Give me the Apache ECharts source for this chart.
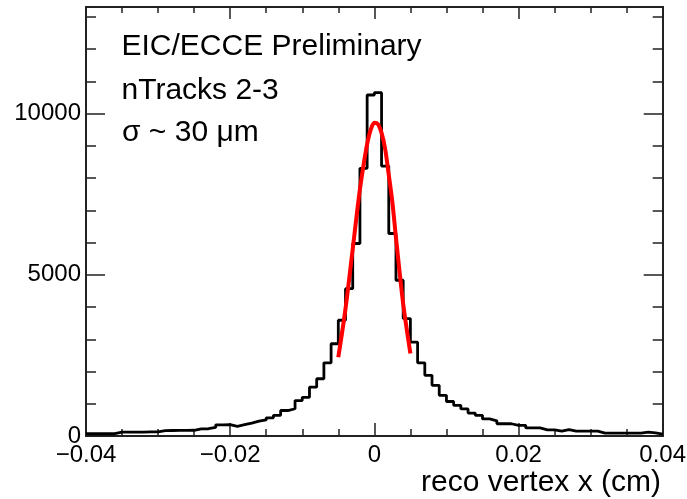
<!DOCTYPE html>
<html>
<head>
<meta charset="utf-8">
<script src="https://cdn.jsdelivr.net/npm/echarts@6/dist/echarts.min.js"></script>
<style>
  html, body { margin: 0; padding: 0; background: #fff; }
  #chart { width: 687px; height: 499px; }
</style>
</head>
<body>
<div id="chart"></div>
<script>
// Histogram of reconstructed vertex x: 80 bins of 0.001 cm from -0.04 to 0.04
const binStart = -0.04;
const binWidth = 0.001;
const counts = [
  70, 70, 70, 70, 118, 120, 122, 120, 125, 128,
  168, 170, 172, 175, 178, 220, 225, 270, 345, 350,
  300, 350, 400, 460, 500, 565, 640, 790, 845, 1100,
  1200, 1515, 1775, 2270, 2860, 3590, 4570, 5970, 8300, 10575,
  10646, 8370, 6280, 4830, 3640, 2910, 2270, 1880, 1570, 1260,
  1070, 950, 840, 710, 640, 530, 470, 380, 380, 330,
  330, 250, 250, 190, 190, 150, 200, 150, 150, 150,
  150, 90, 90, 90, 90, 90, 90, 120, 100, 60
];

// Gaussian fit over the core, |x| < 0.005 cm
const fitX = [-0.005, -0.004, -0.003, -0.0025, -0.002, -0.0015, -0.001, -0.0005, 0,
              0.0005, 0.001, 0.0015, 0.002, 0.0025, 0.003, 0.004, 0.005];
const fitY = [2440, 3950, 5800, 6750, 7650, 8400, 9050, 9500, 9710,
              9670, 9400, 8900, 8100, 7250, 6150, 4100, 2560];

// Axis ranges and tick steps
const xRange = [-0.04, 0.04];
const xMajorStep = 0.02;
const yRange = [0, 13300];
const yMajorStep = 5000;
const yMinorStep = 1000;

// Text annotations
const infoLines = ['EIC/ECCE Preliminary', 'nTracks 2-3', 'σ ~ 30 μm'];
const xTitle = 'reco vertex x (cm)';

// Step outline points: left edge of every bin, then the final right edge
const histPoints = counts.map((c, k) => [binStart + k * binWidth, c]);
histPoints.push([binStart + counts.length * binWidth, counts[counts.length - 1]]);
const fitPoints = fitX.map((x, i) => [x, fitY[i]]);

const FONT = '"Liberation Sans", Arial, Helvetica, sans-serif';
const INK = '#222';

function xLabel(v) {
  if (Math.abs(v) < 1e-12) return '0';
  return (v < 0 ? '\u2212' : '') + Math.abs(v).toFixed(2);
}

function xAxisDef(pos, showLabels, major, minor) {
  return {
    type: 'value', position: pos, min: xRange[0], max: xRange[1], interval: xMajorStep,
    axisLine: { show: true, onZero: false, lineStyle: { color: INK, width: 2 } },
    axisTick: { show: true, inside: true, length: major, lineStyle: { color: INK, width: 1.5 } },
    minorTick: { show: true, splitNumber: 4, length: minor, lineStyle: { color: INK, width: 1.5 } },
    splitLine: { show: false }, minorSplitLine: { show: false },
    axisLabel: {
      show: showLabels, margin: 7, color: '#000', fontFamily: FONT, fontSize: 24,
      formatter: xLabel
    }
  };
}

function yAxisDef(pos, step, tickLen, showLabels) {
  return {
    type: 'value', position: pos, min: yRange[0], max: yRange[1], interval: step,
    axisLine: { show: true, onZero: false, lineStyle: { color: INK, width: 2 } },
    axisTick: { show: true, inside: true, length: tickLen, lineStyle: { color: INK, width: 1.5 } },
    splitLine: { show: false },
    axisLabel: {
      show: showLabels, margin: 5, color: '#000', fontFamily: FONT, fontSize: 24,
      padding: [6, 0, 0, 0],
      showMaxLabel: false,
      formatter: v => (v % yMajorStep === 0 ? String(v) : '')
    }
  };
}

const chart = echarts.init(document.getElementById('chart'), null, { renderer: 'canvas' });

const textBase = { fill: '#000', font: '30px ' + FONT, align: 'left', verticalAlign: 'middle',
                   textAlign: 'left', textVerticalAlign: 'middle' };

chart.setOption({
  animation: false,
  backgroundColor: '#fff',
  grid: { left: 86, right: 24.3, top: 7.1, bottom: 63, outerBoundsMode: 'none', containLabel: false },
  xAxis: [
    xAxisDef('bottom', true, 13, 7),
    xAxisDef('top', false, 12, 6)
  ],
  yAxis: [
    yAxisDef('left', yMajorStep, 19, true),
    yAxisDef('left', yMinorStep, 10, false),
    yAxisDef('right', yMajorStep, 19, false),
    yAxisDef('right', yMinorStep, 10, false)
  ],
  series: [
    {
      name: 'vertex x', type: 'line', step: 'end', data: histPoints,
      xAxisIndex: 0, yAxisIndex: 0, symbol: 'none', silent: true,
      lineStyle: { color: '#000', width: 2.8 }, z: 3
    },
    {
      name: 'fit', type: 'line', smooth: 0.3, data: fitPoints,
      xAxisIndex: 0, yAxisIndex: 0, symbol: 'none', silent: true,
      lineStyle: { color: '#ff0000', width: 4 }, z: 4
    }
  ],
  graphic: [
    { type: 'text', x: 121.5, y: 46.5, style: Object.assign({ text: infoLines[0] }, textBase) },
    { type: 'text', x: 121.5, y: 91, style: Object.assign({ text: infoLines[1] }, textBase) },
    { type: 'text', x: 122, y: 133, style: Object.assign({ text: infoLines[2] }, textBase) },
    { type: 'text', x: 661, y: 483,
      style: Object.assign({}, textBase, { text: xTitle, align: 'right', textAlign: 'right' }) }
  ]
});
</script>
</body>
</html>
